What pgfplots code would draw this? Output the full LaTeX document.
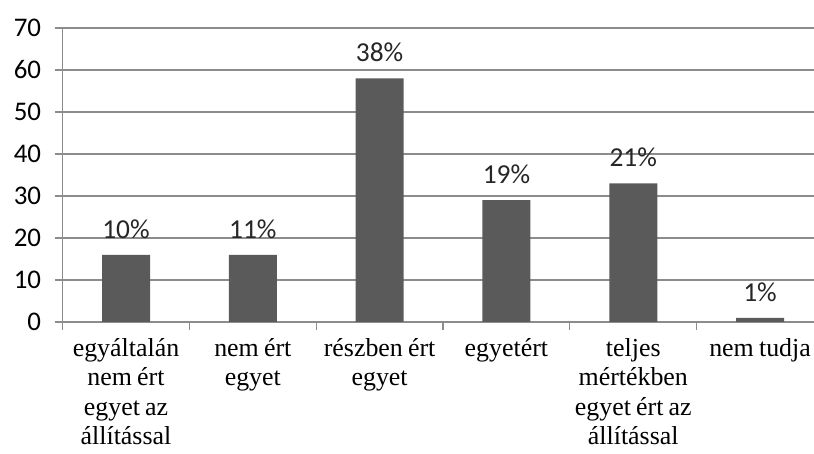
\documentclass[border=0pt]{standalone}
\usepackage{fontspec}
\setmainfont{Carlito}
\newfontfamily\labelfont[WordSpace=0.8]{Liberation Serif}
\usepackage{pgfplots}
\pgfplotsset{compat=1.18}
\definecolor{barcol}{HTML}{5A5A5A}
\definecolor{gridcol}{HTML}{8C8C8C}

\begin{document}
\begin{tikzpicture}
\useasboundingbox (0,0) rectangle (814bp,454bp);
\begin{axis}[
  at={(62.6bp,132bp)}, anchor=south west,
  scale only axis, width=752bp, height=294bp,
  ybar, bar width=48bp,
  xmin=-0.5, xmax=5.43, ymin=0, ymax=70,
  ytick={0,10,...,70},
  xtick={-0.5,0.5,...,4.5},
  xticklabels={{egyáltalán\\nem ért\\egyet az\\állítással},
               {nem ért\\egyet},
               {részben ért\\egyet},
               {egyetért},
               {teljes\\mértékben\\egyet ért az\\állítással},
               {nem tudja}},
  xticklabel style={align=center, anchor=north, xshift=63.4bp, yshift=-5bp,
                    font=\labelfont\fontsize{26}{29.5}\selectfont},
  yticklabel style={font=\fontsize{27}{32}\selectfont, xshift=-10bp},
  /pgf/number format/assume math mode=true,
  axis x line*=bottom, axis y line*=left,
  axis line style={gridcol, line width=1.2bp, -},
  ymajorgrids, grid style={gridcol, line width=1.2bp},
  tick align=outside, major tick length=8bp,
  tick style={gridcol, line width=1.2bp},
  point meta=explicit symbolic,
  nodes near coords,
  every node near coord/.append style={font=\fontsize{27.5}{32}\selectfont,
                    text=black!85, yshift=13bp},
]
\addplot[fill=barcol, draw=none] coordinates {
  (0,16) [10\%]
  (1,16) [11\%]
  (2,58) [38\%]
  (3,29) [19\%]
  (4,33) [21\%]
  (5,1)  [1\%]
};
\end{axis}
\end{tikzpicture}
\end{document}
